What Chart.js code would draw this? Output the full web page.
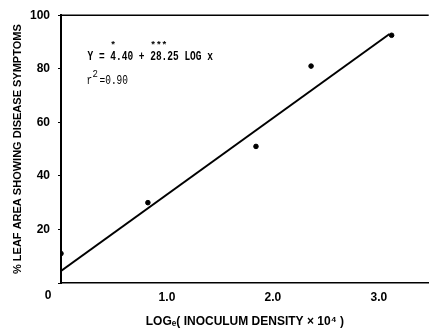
<!DOCTYPE html>
<html><head><meta charset="utf-8">
<script src="https://cdn.jsdelivr.net/npm/chart.js@4.4.1/dist/chart.umd.min.js"></script>
<style>html,body{margin:0;padding:0;background:#fff;overflow:hidden}#wrap{width:432px;height:330px;position:relative}</style>
</head><body><div id="wrap"><canvas id="c"></canvas></div>
<script>
// Data
const pointX = [0, 0.82, 1.84, 2.36, 3.12];
const pointY = [11, 30, 51, 81, 92.5];
const lineX = [0, 3.1];
const lineY = [4.5, 93];
const xTicks = [0, 1, 2, 3];
const xTickLabels = ['', '1.0', '2.0', '3.0'];
const yTicks = [0, 20, 40, 60, 80, 100];
const yTickLabels = ['', '20', '40', '60', '80', '100'];
const originLabel = '0';
const yTitle = '% LEAF AREA SHOWING DISEASE SYMPTOMS';
const xTitle = 'LOGₑ( INOCULUM DENSITY × 10⁴ )';
const eqStars = '    *      ***';
const eqText = 'Y = 4.40 + 28.25 LOG x';
const r2Parts = ['r', '2', '=0.90'];

const SANS = "'Liberation Sans Narrow', 'Liberation Sans', Arial, sans-serif";
const MONO = "'Liberation Mono', 'DejaVu Sans Mono', monospace";

function tallText(ctx, text, x, y, sy) {
  ctx.save();
  ctx.translate(x, y);
  ctx.scale(1, sy);
  ctx.fillText(text, 0, 0);
  ctx.restore();
}

const framePlugin = {
  id: 'frame',
  afterDraw(chart) {
    const {ctx, chartArea: a, scales} = chart;
    ctx.save();
    ctx.strokeStyle = '#000';
    ctx.lineWidth = 1.5;
    ctx.beginPath();
    ctx.moveTo(a.left, a.top);
    ctx.lineTo(a.right, a.top);
    ctx.stroke();
    ctx.fillStyle = '#000';
    ctx.font = 'bold 12px ' + SANS;
    ctx.textAlign = 'center';
    ctx.textBaseline = 'middle';
    ctx.fillText(originLabel, a.left - 13, a.bottom + 13);
    const x0 = scales.x.getPixelForValue(0.25);
    const yEq = scales.y.getPixelForValue(84.3);
    ctx.textAlign = 'left';
    ctx.font = 'bold 9.5px ' + MONO;
    tallText(ctx, eqText, x0, yEq, 1.35);
    tallText(ctx, eqStars, x0, yEq - 12, 1.0);
    const yR = scales.y.getPixelForValue(75.5);
    ctx.font = '9.5px ' + MONO;
    tallText(ctx, r2Parts[0], x0 - 1, yR, 1.35);
    ctx.font = '9px ' + MONO;
    tallText(ctx, r2Parts[1], x0 + 5, yR - 7, 1.2);
    ctx.font = '9.5px ' + MONO;
    tallText(ctx, r2Parts[2], x0 + 12, yR, 1.35);
    ctx.restore();
  }
};

new Chart(document.getElementById('c'), {
  type: 'scatter',
  data: {
    datasets: [
      {
        label: 'observed',
        data: pointX.map((x, i) => ({x, y: pointY[i]})),
        backgroundColor: '#000',
        borderColor: '#000',
        pointRadius: 2.3,
        pointHoverRadius: 2.3
      },
      {
        label: 'fit',
        type: 'line',
        data: lineX.map((x, i) => ({x, y: lineY[i]})),
        borderColor: '#000',
        borderWidth: 2,
        pointRadius: 0,
        fill: false
      }
    ]
  },
  options: {
    responsive: true,
    maintainAspectRatio: false,
    animation: false,
    events: [],
    layout: {padding: {left: 0, right: 0, top: 15, bottom: 0}},
    plugins: {legend: {display: false}, tooltip: {enabled: false}},
    scales: {
      x: {
        type: 'linear',
        min: 0,
        max: 3.47,
        afterBuildTicks: s => { s.ticks = xTicks.map(v => ({value: v})); },
        afterFit: s => { s.height = 47; },
        border: {display: true, color: '#000', width: 1.5},
        grid: {display: true, drawOnChartArea: false, drawTicks: false},
        ticks: {
          color: '#000',
          padding: 7,
          maxRotation: 0,
          font: {family: SANS, weight: 'bold', size: 12},
          callback: (v) => xTickLabels[xTicks.indexOf(v)] ?? ''
        },
        title: {
          display: true,
          text: xTitle,
          color: '#000',
          font: {family: SANS, weight: 'bold', size: 12},
          padding: {top: 0, bottom: 1}
        }
      },
      y: {
        type: 'linear',
        min: 0,
        max: 100,
        afterBuildTicks: s => { s.ticks = yTicks.map(v => ({value: v})); },
        afterFit: s => { s.width = 61; },
        border: {display: true, color: '#000', width: 2},
        grid: {display: true, drawOnChartArea: false, drawTicks: true, tickLength: 3, color: '#000'},
        ticks: {
          color: '#000',
          padding: 8,
          font: {family: SANS, weight: 'bold', size: 12},
          callback: (v) => yTickLabels[yTicks.indexOf(v)] ?? ''
        },
        title: {
          display: true,
          text: yTitle,
          color: '#000',
          font: {family: SANS, weight: 'bold', size: 11},
          padding: {top: 11, bottom: 0}
        }
      }
    }
  },
  plugins: [framePlugin]
});
</script>
</body></html>
